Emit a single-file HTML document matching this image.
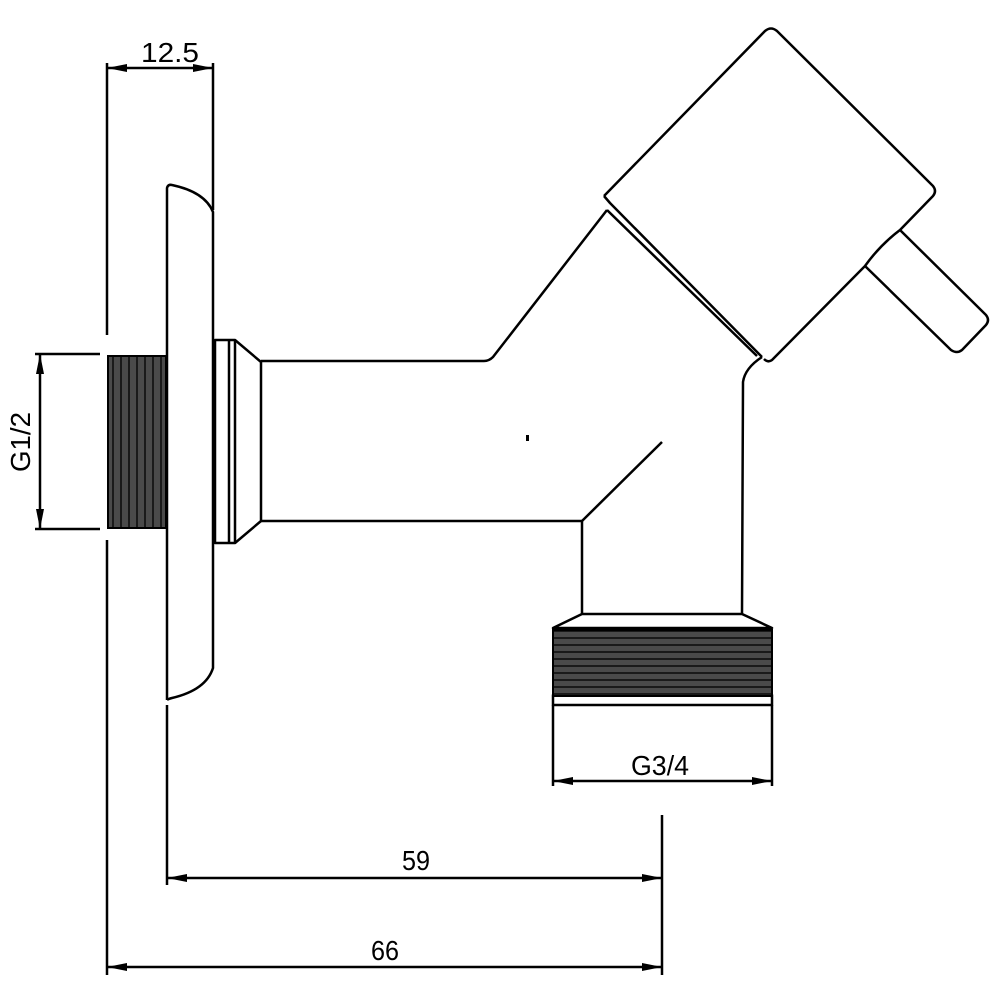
<!DOCTYPE html>
<html><head><style>body{margin:0;background:#fff}svg{display:block}</style></head><body>
<svg width="1000" height="1000" viewBox="0 0 1000 1000" xmlns="http://www.w3.org/2000/svg">
<defs>
<marker id="a" viewBox="0 0 20 8" refX="20" refY="4" markerWidth="20" markerHeight="8" markerUnits="userSpaceOnUse" orient="auto-start-reverse"><path d="M0,0 L20,4 L0,8 z" fill="#000"/></marker>
<pattern id="tv" width="8" height="10" patternUnits="userSpaceOnUse"><rect width="8" height="10" fill="#4a4a4a"/><rect x="0" width="2" height="10" fill="#1a1a1a"/></pattern>
<pattern id="th" width="10" height="7" patternUnits="userSpaceOnUse"><rect width="10" height="7" fill="#4a4a4a"/><rect y="0" width="10" height="2" fill="#1a1a1a"/></pattern>
</defs>
<g fill="none" stroke="#000" stroke-width="2.5" stroke-linejoin="round">
<line x1="107" y1="63" x2="107" y2="335"/>
<line x1="107" y1="540" x2="107" y2="975"/>
<line x1="213" y1="63" x2="213" y2="210"/>
<line x1="107" y1="68" x2="213" y2="68" marker-start="url(#a)" marker-end="url(#a)"/>
<line x1="35" y1="354" x2="100" y2="354"/>
<line x1="35" y1="529" x2="100" y2="529"/>
<line x1="40" y1="354" x2="40" y2="529" marker-start="url(#a)" marker-end="url(#a)"/>
<line x1="167" y1="705" x2="167" y2="885"/>
<line x1="662" y1="815" x2="662" y2="975"/>
<line x1="167" y1="878" x2="662" y2="878" marker-start="url(#a)" marker-end="url(#a)"/>
<line x1="107" y1="967" x2="662" y2="967" marker-start="url(#a)" marker-end="url(#a)"/>
<line x1="553" y1="705" x2="553" y2="786"/>
<line x1="772" y1="705" x2="772" y2="786"/>
<line x1="553" y1="781" x2="772" y2="781" marker-start="url(#a)" marker-end="url(#a)"/>
<path d="M167,700 L167,188 Q168,184 172,185 Q205,192 213,212 L213,668 Q206,690 172,698 Q168,699 167,700"/>
<rect x="215" y="340" width="20" height="203"/>
<line x1="229" y1="340" x2="229" y2="543"/>
<path d="M235,340 L261,362 L261,521 L235,543"/>
<path d="M261,361 L484,361 Q489,361 493,357 L607,210"/>
<path d="M261,521 L582,521 L582,614"/>
<line x1="582" y1="521" x2="662" y2="442"/>
<rect x="526" y="435" width="3" height="6" fill="#000" stroke="none"/>
<path d="M607,210 L757,356"/>
<path d="M604,196 L610,203 L762,357"/>
<path d="M762,357 Q745,368 743,382 L742,614"/>
<path d="M604,196 L765,31 Q771,26 777,31 L933,186 Q937,191 933,196 L900,230 Q880,245 865,266 L772,360 Q768,363 764,359"/>
<path d="M900,230 L986,315 Q990,320 986,325 L962,350 Q957,354 951,350 L865,266"/>
<path d="M582,614 L742,614 L772,628 L553,628 Z"/>
<rect x="553" y="695" width="219" height="10"/>
</g>
<rect x="108" y="356" width="58" height="172" fill="url(#tv)" stroke="#000" stroke-width="2"/>
<rect x="553" y="630" width="219" height="66" fill="url(#th)" stroke="#000" stroke-width="2"/>
<g font-family="Liberation Sans Narrow, Liberation Sans, sans-serif" font-size="28" fill="#000" text-anchor="middle">
<text x="170" y="62" textLength="58" lengthAdjust="spacingAndGlyphs">12.5</text>
<text x="416" y="870" textLength="28" lengthAdjust="spacingAndGlyphs">59</text>
<text x="385" y="960" textLength="28" lengthAdjust="spacingAndGlyphs">66</text>
<text x="660" y="775" textLength="58" lengthAdjust="spacingAndGlyphs">G3/4</text>
<text x="0" y="0" transform="translate(30,442) rotate(-90)" textLength="60" lengthAdjust="spacingAndGlyphs">G1/2</text>
</g>
</svg>
</body></html>
